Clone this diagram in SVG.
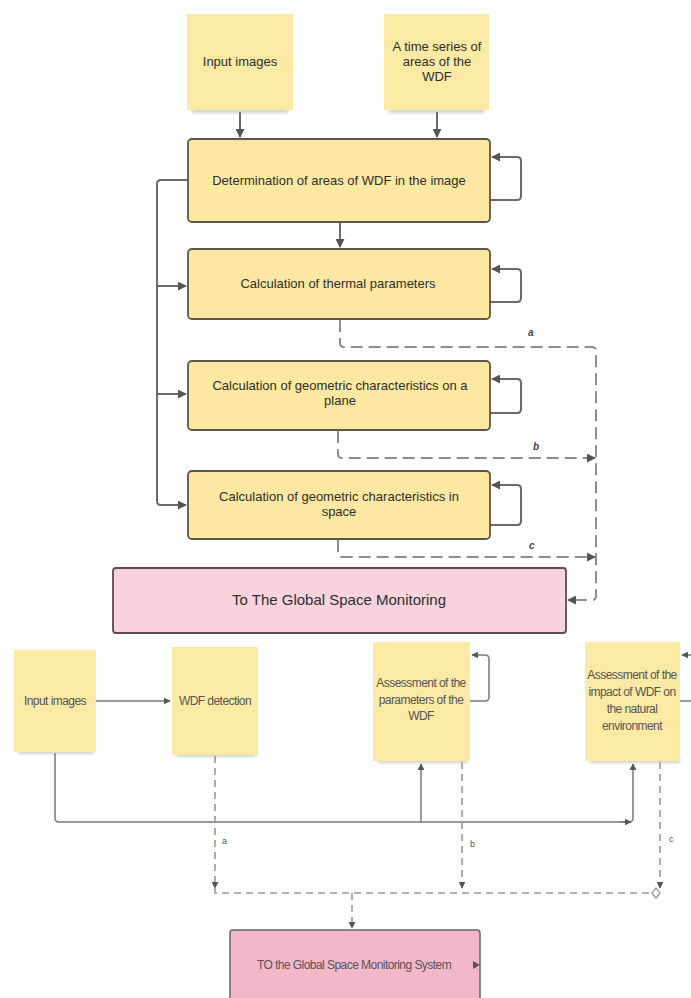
<svg xmlns="http://www.w3.org/2000/svg" width="691" height="998" viewBox="0 0 691 998">
<defs>
<style>
.sticky{fill:#fce9a3;}
.box{fill:#fce8a0;stroke:#5b5648;stroke-width:1.8;}
.pink1{fill:#f8d3de;stroke:#5e4a50;stroke-width:1.8;}
.pink2{fill:#f4b6c9;stroke:#666;stroke-width:1.5;}
.t{font-family:"Liberation Sans",Arial,sans-serif;fill:#2e2e2e;text-anchor:middle;}
.t12{font-size:13px;}
.tn{font-size:12px;letter-spacing:-0.55px;fill:#555;}
.lbl{font-family:"Liberation Sans",Arial,sans-serif;font-size:10px;font-style:italic;font-weight:bold;fill:#444;}
.lbl2{font-family:"Liberation Sans",Arial,sans-serif;font-size:9px;fill:#555;}
.c{fill:none;stroke:#6a6a6a;stroke-width:2;}
.cd{fill:none;stroke:#8c8c8c;stroke-width:2;stroke-dasharray:12 6;}
.cs{fill:none;stroke:#7a7a7a;stroke-width:1.5;}
.cds{fill:none;stroke:#999;stroke-width:1.6;stroke-dasharray:7 5;}
.shadow{fill:#9a9a9a;opacity:0.45;}
</style>
<marker id="ah" viewBox="0 0 10 10" refX="9" refY="5" markerWidth="9" markerHeight="9" markerUnits="userSpaceOnUse" orient="auto"><path d="M0,0 L10,5 L0,10 z" fill="#555"/></marker>
<marker id="ahs" viewBox="0 0 10 10" refX="9" refY="5" markerWidth="7" markerHeight="7" markerUnits="userSpaceOnUse" orient="auto"><path d="M0,0 L10,5 L0,10 z" fill="#555"/></marker>
<filter id="blur" x="-20%" y="-100%" width="140%" height="300%"><feGaussianBlur stdDeviation="1.5"/></filter>
</defs>
<rect width="691" height="998" fill="#ffffff"/>

<g id="connectors">
<path class="c" d="M240,112 V137" marker-end="url(#ah)"/>
<path class="c" d="M437,112 V137" marker-end="url(#ah)"/>
<path class="c" d="M340,222 V247" marker-end="url(#ah)"/>
<path class="c" d="M490,200 H517 Q521,200 521,196 V161 Q521,157 517,157 H492" marker-end="url(#ah)"/>
<path class="c" d="M490,302 H517 Q521,302 521,298 V273 Q521,269 517,269 H492" marker-end="url(#ah)"/>
<path class="c" d="M490,413 H517 Q521,413 521,409 V383 Q521,379 517,379 H492" marker-end="url(#ah)"/>
<path class="c" d="M490,525 H517 Q521,525 521,521 V489 Q521,485 517,485 H492" marker-end="url(#ah)"/>
<path class="c" d="M188,180 H161 Q157,180 157,184 V501 Q157,505 161,505 H186" marker-end="url(#ah)"/>
<path class="c" d="M157,286 H186" marker-end="url(#ah)"/>
<path class="c" d="M157,394 H186" marker-end="url(#ah)"/>
<path class="cd" d="M340,320 V343 Q340,347 344,347 H592 Q596,347 596,351 V596 Q596,600 592,600 H568" marker-end="url(#ah)"/>
<path class="cd" d="M338,431 V454 Q338,458 342,458 H595" marker-end="url(#ah)"/>
<path class="cd" d="M338,540 V553 Q338,557 342,557 H595" marker-end="url(#ah)"/>
<text class="lbl" x="528" y="336">a</text>
<text class="lbl" x="533" y="450">b</text>
<text class="lbl" x="529" y="549">c</text>
<path class="cs" d="M96,701 H170" marker-end="url(#ahs)"/>
<path class="cs" d="M470,701 H485 Q489,701 489,697 V659 Q489,655 485,655 H472" marker-end="url(#ahs)"/>
<path class="cs" d="M680,701 H691"/>
<path class="cs" d="M691,655 H682" marker-end="url(#ahs)"/>
<path class="cs" d="M55,753 V818 Q55,822 59,822 H629 Q633,822 633,818 V764" marker-end="url(#ahs)"/>
<path class="cs" d="M620,822 H631" marker-end="url(#ahs)"/>
<path class="cs" d="M421,822 V764" marker-end="url(#ahs)"/>
<path class="cds" d="M215,756 V888" marker-end="url(#ahs)"/>
<path class="cds" d="M462,762 V888" marker-end="url(#ahs)"/>
<path class="cds" d="M660,762 V888" marker-end="url(#ahs)"/>
<path class="cds" d="M215,888 V893 H652"/>
<path d="M656,888 L660,893 L656,898 L652,893 z" fill="#fff" stroke="#888" stroke-width="1.2"/>
<path class="cds" d="M352,893 V928" marker-end="url(#ahs)"/>
<text class="lbl2" x="222" y="844">a</text>
<text class="lbl2" x="470" y="847">b</text>
<text class="lbl2" x="669" y="842">c</text>
</g>

<g id="n_input_top">
<rect class="shadow" x="192" y="108" width="96" height="5" filter="url(#blur)"/>
<rect class="sticky" x="187" y="14" width="106" height="96"/>
<text class="t t12" x="240" y="66">Input images</text>
</g>
<g id="n_timeseries">
<rect class="shadow" x="389" y="108" width="95" height="5" filter="url(#blur)"/>
<rect class="sticky" x="384" y="14" width="105" height="96"/>
<text class="t t12" x="437" y="51">A time series of</text>
<text class="t t12" x="437" y="66">areas of the</text>
<text class="t t12" x="437" y="81">WDF</text>
</g>
<g id="n_determination">
<rect class="box" x="188" y="139" width="302" height="83" rx="4"/>
<text class="t t12" x="339" y="185">Determination of areas of WDF in the image</text>
</g>
<g id="n_thermal">
<rect class="box" x="188" y="249" width="302" height="70" rx="4"/>
<text class="t t12" x="338" y="288">Calculation of thermal parameters</text>
</g>
<g id="n_plane">
<rect class="box" x="188" y="361" width="302" height="69" rx="4"/>
<text class="t t12" x="340" y="390">Calculation of geometric characteristics on a</text>
<text class="t t12" x="340" y="405">plane</text>
</g>
<g id="n_space">
<rect class="box" x="188" y="471" width="302" height="68" rx="4"/>
<text class="t t12" x="339" y="501">Calculation of geometric characteristics in</text>
<text class="t t12" x="339" y="516">space</text>
</g>
<g id="n_global1">
<rect class="pink1" x="113" y="568" width="453" height="65" rx="3"/>
<text class="t" x="339" y="605" style="font-size:15px">To The Global Space Monitoring</text>
</g>

<g id="n_input_bottom">
<rect class="shadow" x="18" y="749" width="76" height="5" filter="url(#blur)"/>
<rect class="sticky" x="14" y="650" width="82" height="102"/>
<text class="t tn" x="55" y="705">Input images</text>
</g>
<g id="n_wdf_detection">
<rect class="shadow" x="176" y="752" width="80" height="5" filter="url(#blur)"/>
<rect class="sticky" x="172" y="647" width="86" height="108"/>
<text class="t tn" x="215" y="705">WDF detection</text>
</g>
<g id="n_assess_params">
<rect class="shadow" x="378" y="758" width="90" height="5" filter="url(#blur)"/>
<rect class="sticky" x="373" y="642" width="97" height="119"/>
<text class="t tn" x="421" y="687">Assessment of the</text>
<text class="t tn" x="421" y="704">parameters of the</text>
<text class="t tn" x="421" y="720">WDF</text>
</g>
<g id="n_assess_impact">
<rect class="shadow" x="590" y="758" width="90" height="5" filter="url(#blur)"/>
<rect class="sticky" x="585" y="642" width="95" height="119"/>
<text class="t tn" x="632" y="679">Assessment of the</text>
<text class="t tn" x="632" y="696">impact of WDF  on</text>
<text class="t tn" x="632" y="713">the natural</text>
<text class="t tn" x="632" y="730">environment</text>
</g>
<g id="n_global2">
<rect class="pink2" x="230" y="930" width="250" height="80" rx="3"/>
<text class="t tn" x="354" y="969" style="font-size:12px">TO the Global Space Monitoring System</text>
<path d="M473,961 L480,965 L473,969 z" fill="#555"/>
</g>
</svg>
